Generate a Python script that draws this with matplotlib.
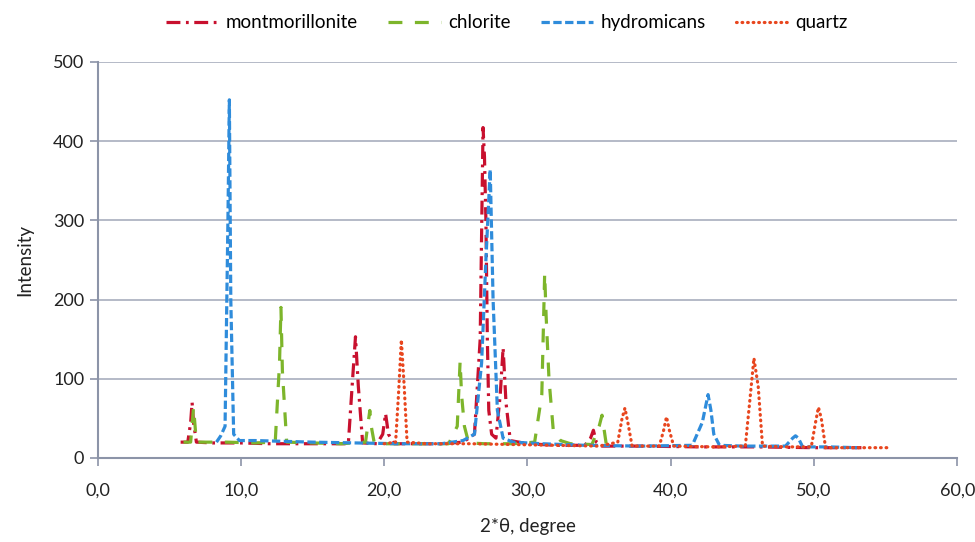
import matplotlib
matplotlib.use("Agg")
import matplotlib.pyplot as plt
from matplotlib.ticker import FuncFormatter

plt.rcParams["font.family"] = ["Lato", "DejaVu Sans"]
plt.rcParams["lines.scale_dashes"] = False

# 2*theta (degree) and intensity
mont_x = [5.8, 6.3, 6.5, 6.6, 6.7, 6.9, 8.0, 10.0, 12.0, 14.0, 16.0, 17.5, 17.8, 18.0, 18.2, 18.5,
          19.5, 19.9, 20.1, 20.3, 20.7, 22.0, 24.0, 25.5, 26.3, 26.7, 26.9, 27.0, 27.1, 27.2, 27.3,
          27.5, 27.8, 28.1, 28.3, 28.5, 28.8, 30.0, 32.0, 34.0, 34.4, 34.6, 34.8, 35.2, 38.0, 42.0,
          46.0, 50.0, 53.3]
mont_y = [20, 20, 45, 70, 45, 20, 19, 19, 18, 18, 18, 18, 100, 153, 90, 19,
          18, 30, 56, 30, 18, 18, 18, 20, 30, 150, 417, 380, 300, 150, 60,
          30, 25, 80, 139, 70, 22, 18, 16, 16, 25, 35, 20, 15, 15, 14,
          14, 13, 13]

chl_x = [6.0, 6.5, 6.7, 6.9, 7.5, 9.0, 11.0, 12.4, 12.7, 12.8, 12.9, 13.2, 15.0, 17.0, 18.7, 19.0,
         19.1, 19.3, 19.8, 22.0, 24.5, 25.1, 25.3, 25.4, 25.6, 25.9, 27.0, 29.0, 30.5, 31.0, 31.2,
         31.3, 31.5, 31.8, 32.3, 33.0, 34.5, 35.0, 35.2, 35.5, 36.0]
chl_y = [20, 20, 64, 20, 20, 20, 19, 20, 120, 190, 110, 20, 19, 18, 20, 60,
         40, 20, 18, 18, 18, 40, 122, 80, 40, 19, 18, 18, 20, 80, 233,
         180, 100, 35, 22, 18, 17, 40, 54, 17, 16]

hyd_x = [8.3, 8.6, 8.9, 9.1, 9.2, 9.3, 9.5, 9.9, 11.0, 13.0, 15.0, 18.0, 21.0, 24.0, 25.5, 26.3,
         26.8, 27.1, 27.4, 27.6, 27.9, 28.3, 29.0, 31.0, 34.0, 38.0, 41.5, 42.2, 42.6, 42.8, 43.0,
         43.4, 45.0, 48.0, 48.5, 48.7, 48.9, 49.2, 51.0, 53.0]
hyd_y = [20, 28, 40, 300, 452, 200, 30, 22, 22, 21, 20, 19, 18, 18, 22, 30,
         120, 250, 364, 200, 60, 25, 20, 18, 16, 15, 16, 45, 80, 60, 30,
         16, 15, 15, 25, 28, 25, 14, 14, 13]

qtz_x = [20.0, 20.8, 21.0, 21.2, 21.4, 21.6, 23.0, 26.0, 29.0, 32.0, 35.0, 36.3, 36.6, 36.8, 37.0,
         37.3, 39.2, 39.5, 39.7, 39.9, 40.2, 43.0, 45.2, 45.5, 45.8, 46.1, 46.4, 48.0, 49.8, 50.1,
         50.3, 50.5, 50.8, 53.0, 55.3]
qtz_y = [18, 20, 80, 149, 90, 20, 18, 18, 17, 16, 15, 20, 50, 63, 45,
         15, 15, 35, 52, 35, 15, 14, 15, 70, 126, 90, 15, 14, 14, 45,
         64, 50, 13, 13, 13]

fig = plt.figure(figsize=(9.75, 5.42), dpi=100)
ax = fig.add_axes([0.1, 0.155, 0.882, 0.731])

lw = 2.3
ax.plot(mont_x, mont_y, color="#C8102E", lw=lw, linestyle=(0, (10, 4, 2, 4)), label="montmorillonite")
ax.plot(chl_x, chl_y, color="#7DB52B", lw=lw, linestyle=(0, (10, 9)), label="chlorite")
ax.plot(hyd_x, hyd_y, color="#2F8CDB", lw=lw, linestyle=(0, (6, 2.5)), label="hydromicans")
ax.plot(qtz_x, qtz_y, color="#E8461E", lw=lw, linestyle=(0, (0.5, 3.5)),
        dash_capstyle="round", label="quartz")

ax.set_xlim(0, 60)
ax.set_ylim(0, 500)
ax.set_xticks(range(0, 61, 10))
ax.set_yticks(range(0, 501, 100))
ax.xaxis.set_major_formatter(FuncFormatter(lambda v, p: f"{v:.1f}".replace(".", ",")))
ax.grid(axis="y", color="#A8AEBE", lw=1.2)
ax.set_axisbelow(True)
for s in ["top", "right"]:
    ax.spines[s].set_visible(False)
for s in ["left", "bottom"]:
    ax.spines[s].set_color("#8C94A8")
    ax.spines[s].set_linewidth(1.5)
ax.tick_params(colors="#8C94A8", labelcolor="#222222", labelsize=13, length=6, width=1.2)
ax.tick_params(axis="x", pad=12)

ax.set_xlabel("2*θ, degree", fontsize=13.5, color="#222222", labelpad=14)
ax.set_ylabel("Intensity", fontsize=13.5, color="#222222", labelpad=14)

ax.legend(loc="upper center", bbox_to_anchor=(0.52, 1.005), bbox_transform=fig.transFigure,
          ncol=4, frameon=False, fontsize=13.5, handlelength=2.8, handletextpad=0.4,
          columnspacing=1.6)

fig.savefig("out.png", dpi=100)
